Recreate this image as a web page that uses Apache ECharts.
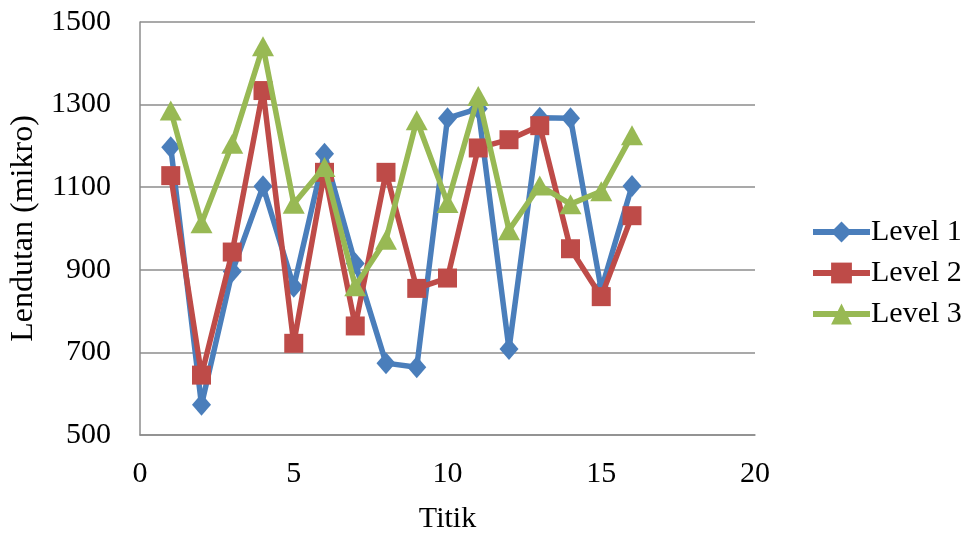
<!DOCTYPE html>
<html>
<head>
<meta charset="utf-8">
<script src="https://cdn.jsdelivr.net/npm/echarts@6/dist/echarts.min.js"></script>
<style>
html,body{margin:0;padding:0;background:#fff;}
#chart{width:974px;height:538px;}
</style>
</head>
<body>
<div id="chart"></div>
<script>
const titik = [1,2,3,4,5,6,7,8,9,10,11,12,13,14,15,16];
const level1 = [1197,573,896,1102,859,1181,915,674,664,1267,1290,708,1268,1267,852,1103];
const level2 = [1128,645,943,1334,722,1136,764,1136,855,880,1195,1215,1249,951,835,1031];
const level3 = [1286,1013,1205,1441,1060,1149,860,973,1262,1062,1321,996,1104,1059,1090,1226];
const seriesNames = ['Level 1','Level 2','Level 3'];
const xTicks = [0,5,10,15,20];
const yTicks = [500,700,900,1100,1300,1500];

const FONT = '"Liberation Serif","Times New Roman",serif';
const colors = ['#4a7ebb','#be4b48','#98b954'];
const symbols = ['diamond','rect','triangle'];
const symbolSizes = [[19,22],19,[22,20]];
const all = [level1,level2,level3];

const chart = echarts.init(document.getElementById('chart'));
chart.setOption({
  animation:false,
  grid:{left:140,right:219,top:22,bottom:103,containLabel:false,outerBoundsMode:'none'},
  legend:{
    orient:'vertical',left:805,top:212,itemGap:11,itemWidth:57,itemHeight:26,
    textStyle:{fontFamily:FONT,fontSize:30,color:'#000',padding:[0,0,0,-4]},
    lineStyle:{width:6},
    data:seriesNames
  },
  xAxis:{
    type:'value',min:xTicks[0],max:xTicks[xTicks.length-1],interval:5,
    name:'Titik',nameLocation:'middle',nameGap:69,
    nameTextStyle:{fontFamily:FONT,fontSize:30,color:'#000'},
    axisLine:{show:true,lineStyle:{color:'#8c8c8c',width:1.5}},
    axisTick:{show:false},
    splitLine:{show:false},
    axisLabel:{fontFamily:FONT,fontSize:30,color:'#000',margin:24}
  },
  yAxis:{
    type:'value',min:yTicks[0],max:yTicks[yTicks.length-1],interval:200,
    name:'Lendutan (mikro)',nameLocation:'middle',nameGap:100,nameRotate:90,
    nameTextStyle:{fontFamily:FONT,fontSize:32,color:'#000'},
    axisLine:{show:true,lineStyle:{color:'#8c8c8c',width:1.5}},
    axisTick:{show:false},
    splitLine:{show:true,lineStyle:{color:'#8c8c8c',width:1.5}},
    axisLabel:{fontFamily:FONT,fontSize:30,color:'#000',margin:29,formatter:v=>String(v)}
  },
  series: all.map((d,i)=>({
    name:seriesNames[i],type:'line',
    data:titik.map((t,j)=>[t,d[j]]),
    symbol:symbols[i],symbolSize:symbolSizes[i],
    showAllSymbol:true,
    lineStyle:{color:colors[i],width:5.5},
    itemStyle:{color:colors[i]},
    z:2+i
  }))
});
</script>
</body>
</html>
